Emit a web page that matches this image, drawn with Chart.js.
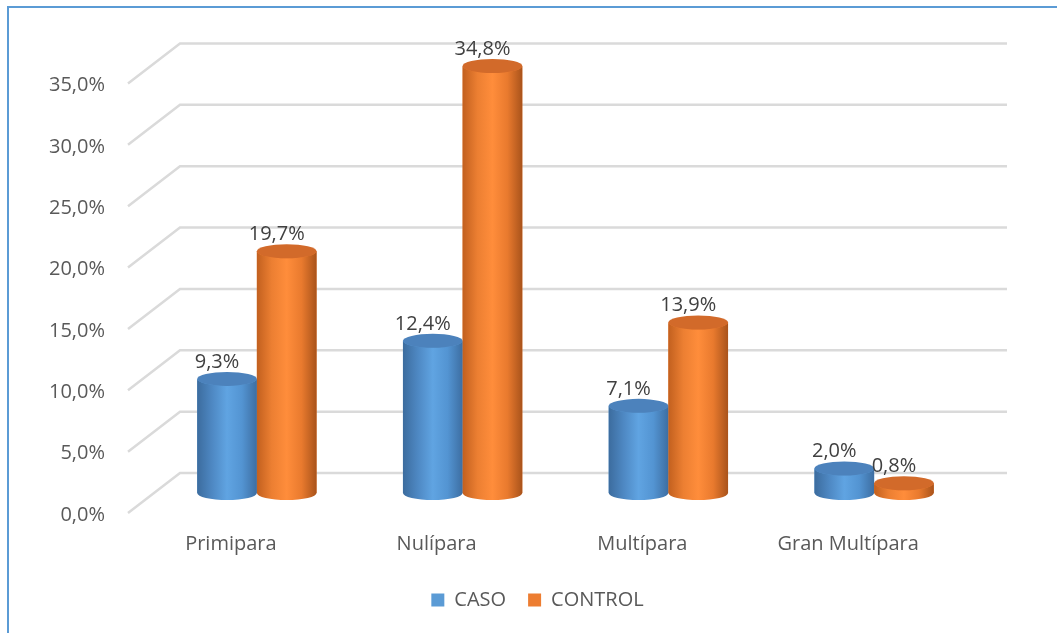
<!DOCTYPE html>
<html><head><meta charset="utf-8">
<script src="https://cdn.jsdelivr.net/npm/chart.js@4.4.1/dist/chart.umd.min.js"></script>
<style>html,body{margin:0;padding:0;background:#fff;overflow:hidden}#wrap{width:1057px;height:633px;position:relative}</style>
</head><body><div id="wrap"><canvas id="c" width="1057" height="633"></canvas></div>
<script>
const categories = ['Primipara', 'Nulípara', 'Multípara', 'Gran Multípara'];
const seriesNames = ['CASO', 'CONTROL'];
const casoValues = [9.3, 12.4, 7.1, 2.0];
const controlValues = [19.7, 34.8, 13.9, 0.8];
const yTickValues = [0, 5, 10, 15, 20, 25, 30, 35];

const FONT = '"Open Sans", "Liberation Sans", sans-serif';
const FS = 20;
const depth = {dx: 26, dy: 20};
const fmt = v => v.toFixed(1).replace('.', ',') + '%';

const palettes = [
  {base: '#5B9BD5', top: '#4C82BC', stops: ['#3C6C9E', '#4E88C3', '#60A4E2', '#5394D2', '#3D6EA2']},
  {base: '#ED7D31', top: '#D26A2A', stops: ['#C2601F', '#EC7F32', '#FF8D3B', '#E97A2E', '#A9531B']}
];

const gridPlugin = {
  id: 'grid3d',
  beforeDraw(chart) {
    const {ctx, chartArea: a, scales: {y}} = chart;
    ctx.save();
    ctx.strokeStyle = '#5B9BD5'; ctx.lineWidth = 2;
    ctx.strokeRect(8, 7, chart.width + 20, chart.height + 20);
    ctx.strokeStyle = '#DADADA'; ctx.lineWidth = 2.5;
    y.ticks.forEach(t => {
      const ym = y.getPixelForValue(t.value);
      ctx.beginPath();
      ctx.moveTo(a.left - depth.dx, ym + depth.dy);
      ctx.lineTo(a.left + depth.dx, ym - depth.dy);
      ctx.lineTo(a.right + depth.dx + 4, ym - depth.dy);
      ctx.stroke();
    });
    ctx.restore();
  }
};

const cylPlugin = {
  id: 'cyl',
  afterDatasetsDraw(chart) {
    const ctx = chart.ctx;
    const ry = 7;
    ctx.save();
    chart.data.datasets.forEach((ds, di) => {
      const meta = chart.getDatasetMeta(di);
      const p = palettes[di];
      meta.data.forEach(el => {
        const {x, y, base, width} = el.getProps(['x', 'y', 'base', 'width'], true);
        const l = x - width / 2, r = x + width / 2, rx = width / 2;
        const g = ctx.createLinearGradient(l, 0, r, 0);
        p.stops.forEach((c, i) => g.addColorStop(i / (p.stops.length - 1), c));
        ctx.beginPath();
        ctx.moveTo(l, y);
        ctx.lineTo(l, base);
        ctx.ellipse(x, base, rx, ry, 0, Math.PI, 0, true);
        ctx.lineTo(r, y);
        ctx.ellipse(x, y, rx, ry, 0, 0, Math.PI, false);
        ctx.closePath();
        ctx.fillStyle = g;
        ctx.fill();
        ctx.beginPath();
        ctx.ellipse(x, y, rx, ry, 0, 0, Math.PI * 2);
        ctx.fillStyle = p.top;
        ctx.fill();
      });
    });
    ctx.fillStyle = '#404040';
    ctx.font = FS + 'px ' + FONT;
    ctx.textAlign = 'center';
    ctx.textBaseline = 'middle';
    chart.data.datasets.forEach((ds, di) => {
      chart.getDatasetMeta(di).data.forEach((el, i) => {
        ctx.fillText(fmt(ds.data[i]), el.x - 10, el.y - 17);
      });
    });
    ctx.restore();
  }
};

new Chart(document.getElementById('c'), {
  type: 'bar',
  data: {
    labels: categories,
    datasets: [
      {label: seriesNames[0], data: casoValues, backgroundColor: palettes[0].base, borderWidth: 0},
      {label: seriesNames[1], data: controlValues, backgroundColor: palettes[1].base, borderWidth: 0}
    ]
  },
  options: {
    responsive: false,
    animation: false,
    devicePixelRatio: 1,
    layout: {padding: {top: 63.5, right: 0, bottom: 13, left: 18}},
    datasets: {bar: {categoryPercentage: 0.58, barPercentage: 1}},
    scales: {
      x: {
        grid: {display: false, drawTicks: false},
        border: {display: false},
        afterFit(s) { s.height = 75; },
        ticks: {font: {family: FONT, size: FS}, color: '#595959', padding: 39, labelOffset: -26, maxRotation: 0, autoSkip: false}
      },
      y: {
        min: 0, max: 35,
        grid: {display: false, drawTicks: false},
        border: {display: false},
        afterFit(s) { s.width = 136; },
        afterBuildTicks(s) { s.ticks = yTickValues.map(v => ({value: v})); },
        ticks: {font: {family: FONT, size: FS}, color: '#595959', padding: 49, labelOffset: 22, callback: v => fmt(v)}
      },
      yRight: {
        type: 'linear', position: 'right', min: 0, max: 1,
        grid: {display: false, drawTicks: false},
        border: {display: false},
        ticks: {display: false},
        afterFit(s) { s.width = 80; }
      }
    },
    plugins: {
      legend: {
        position: 'bottom',
        labels: {font: {family: FONT, size: FS}, color: '#595959', boxWidth: 13, boxHeight: 13, padding: 22}
      },
      tooltip: {enabled: false}
    }
  },
  plugins: [gridPlugin, cylPlugin]
});
</script></body></html>
